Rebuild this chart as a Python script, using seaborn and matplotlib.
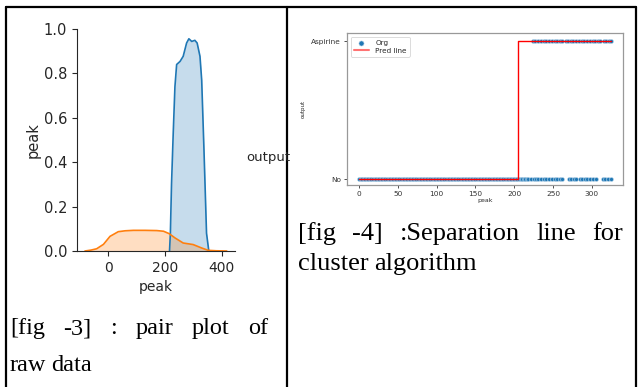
import numpy as np
import pandas as pd
import matplotlib
matplotlib.use("Agg")
import matplotlib.pyplot as plt
import seaborn as sns
from matplotlib.lines import Line2D

# ---- fig 3: diagonal KDE of the pair plot (curve) ----
asp_kde_x = [216, 219, 223, 229, 235, 241, 253, 264, 276, 284, 294, 305, 313, 323, 329, 337, 346, 354]
asp_kde_y = [0.0, 0.08, 0.30, 0.53, 0.74, 0.84, 0.854, 0.877, 0.937, 0.956, 0.944, 0.949, 0.937, 0.877, 0.77, 0.456, 0.08, 0.0]
no_kde_x = [-81, -60, -40, -16, 7, 36, 60, 89, 130, 171, 195, 215, 235, 264, 299, 329, 352, 380, 417]
no_kde_y = [0.0, 0.004, 0.01, 0.03, 0.066, 0.087, 0.091, 0.093, 0.093, 0.092, 0.089, 0.078, 0.059, 0.036, 0.029, 0.0135, 0.003, 0.001, 0.0]

# ---- fig 4: original points and prediction line ----
no_peaks = [0, 2, 4, 6, 8, 10, 12, 14, 16, 18, 20, 22, 24, 26, 28, 30, 32, 34, 36, 38,
            40, 42, 44, 46, 48, 50, 52, 54, 56, 58, 60, 62, 64, 66, 68, 70, 72, 74, 76, 78,
            80, 82, 84, 86, 88, 90, 92, 94, 96, 98, 100, 102, 104, 106, 108, 110, 112, 114,
            116, 118, 120, 122, 124, 126, 128, 130, 132, 134, 136, 138, 140, 142, 144, 146,
            148, 150, 152, 154, 156, 158, 160, 162, 164, 166, 168, 170, 172, 174, 176, 178,
            180, 182, 184, 186, 188, 190, 192, 194, 196, 198, 200, 202, 204, 206, 208, 210,
            212, 214, 216, 218, 221, 225, 228, 231, 234,
            238, 241, 245, 248, 252, 255, 259, 262,
            270, 273, 277, 280, 284, 287, 291, 294, 298, 301, 305,
            314, 317, 321, 324]
asp_peaks = [224, 227, 231, 234, 238, 241, 245, 248, 252, 255, 259, 262, 266, 269, 273,
             276, 280, 283, 287, 290, 294, 297, 301, 304, 308, 311, 315, 318, 322, 325]
pred_x = [0, 205, 205, 325]
pred_y = ["No", "No", "Aspirine", "Aspirine"]
classes = ["No", "Aspirine"]

W, H = 640, 387
fig = plt.figure(figsize=(W / 100, H / 100), dpi=100)
fig.patch.set_facecolor("white")


def box(l, t, r, b):
    return [l / W, 1 - b / H, (r - l) / W, (b - t) / H]


sns.set_style("ticks")
plt.rcParams["font.family"] = ["DejaVu Sans"]

# ---------------- left plot ----------------
ax1 = fig.add_axes(box(77, 29, 235, 251))
c0, c1 = sns.color_palette("tab10")[:2]
kde = pd.DataFrame({
    "peak": asp_kde_x + no_kde_x,
    "dens": asp_kde_y + no_kde_y,
    "output": ["Aspirine"] * len(asp_kde_x) + ["No"] * len(no_kde_x),
})
sns.lineplot(data=kde, x="peak", y="dens", hue="output", palette=[c0, c1],
             sort=False, estimator=None, linewidth=1.2, legend=False, ax=ax1)
ax1.fill_between(asp_kde_x, asp_kde_y, color=c0, alpha=0.25, linewidth=0)
ax1.fill_between(no_kde_x, no_kde_y, color=c1, alpha=0.25, linewidth=0)
ax1.set_xlim(-109, 446)
ax1.set_ylim(0, 1.0)
ax1.set_xticks([0, 200, 400])
ax1.set_yticks([0.0, 0.2, 0.4, 0.6, 0.8, 1.0])
ax1.set_yticklabels(["0.0", "0.2", "0.4", "0.6", "0.8", "1.0"])
ax1.tick_params(axis="y", labelsize=10.5, length=3.5, width=0.8)
ax1.tick_params(axis="x", labelsize=10, length=3.5, width=0.8)
ax1.set_xlabel("peak", fontsize=10)
ax1.set_ylabel("peak", fontsize=10.5, labelpad=2)
sns.despine(ax=ax1)
fig.text(246 / W, 1 - 158 / H, "output", fontsize=9.5, va="center", ha="left")

# ---------------- right plot ----------------
ax2 = fig.add_axes(box(347, 33, 623, 185))
pts = pd.DataFrame({
    "peak": no_peaks + asp_peaks,
    "output": ["No"] * len(no_peaks) + ["Aspirine"] * len(asp_peaks),
})
pts["y"] = pts["output"].map({c: i for i, c in enumerate(classes)})
pred = pd.DataFrame({"peak": pred_x, "y": [classes.index(v) for v in pred_y]})
sns.scatterplot(data=pts, x="peak", y="y", s=8, color=c0, edgecolor="#b8d4ea",
                linewidth=0.4, label="Org", ax=ax2, zorder=2)
sns.lineplot(data=pred, x="peak", y="y", sort=False, estimator=None, color="red",
             linewidth=1.0, label="Pred line", ax=ax2, zorder=3)
ax2.set_xlim(-15.5, 340)
ax2.set_ylim(-0.043, 1.058)
ax2.set_yticks([0, 1])
ax2.set_yticklabels(classes)
ax2.set_xticks([0, 50, 100, 150, 200, 250, 300])
ax2.tick_params(labelsize=5.3, length=2.5, width=0.6, pad=2, colors="#333333")
for sp in ax2.spines.values():
    sp.set_color("#999999")
    sp.set_linewidth(0.9)
ax2.set_xlabel("peak", fontsize=4.5, labelpad=0.5)
ax2.set_ylabel("output", fontsize=4, labelpad=4)
leg = ax2.legend(loc="upper left", fontsize=5.2, frameon=True, handlelength=2.2,
                 borderpad=0.4, labelspacing=0.3, markerscale=1.3)
leg.get_frame().set_edgecolor("#cccccc")
leg.get_frame().set_linewidth(0.6)
for ln in leg.get_lines():
    ln.set_alpha(0.55)
    ln.set_linewidth(1.5)

# ---------------- table borders ----------------
for xs, ys in [([6, 636], [7, 7]), ([6, 6], [7, 387]), ([287, 287], [7, 387]),
               ([636, 636], [7, 387])]:
    fig.add_artist(Line2D([x / W for x in xs], [1 - y / H for y in ys],
                          color="black", linewidth=1.6))

# ---------------- captions (justified) ----------------
renderer = fig.canvas.get_renderer()


def line_of(words, x0, x1, base, size, justify=True):
    ts = [fig.text(0, 1 - base / H, w, fontsize=size, family="Liberation Serif",
                   color="black", va="baseline", ha="left") for w in words]
    widths = [t.get_window_extent(renderer).width for t in ts]
    gap = (x1 - x0 - sum(widths)) / (len(ts) - 1) if justify and len(ts) > 1 else size * 0.3
    x = x0
    for t, w in zip(ts, widths):
        t.set_x(x / W)
        x += w + gap


line_of(["[fig", "-3]", ":", "pair", "plot", "of"], 10, 268, 334, 17.5)
line_of(["raw", "data"], 10, 0, 371, 17.5, justify=False)
line_of(["[fig", "-4]", ":Separation", "line", "for"], 298, 623, 240, 19)
line_of(["cluster", "algorithm"], 298, 0, 270, 19, justify=False)

fig.savefig("out.png", dpi=100)
